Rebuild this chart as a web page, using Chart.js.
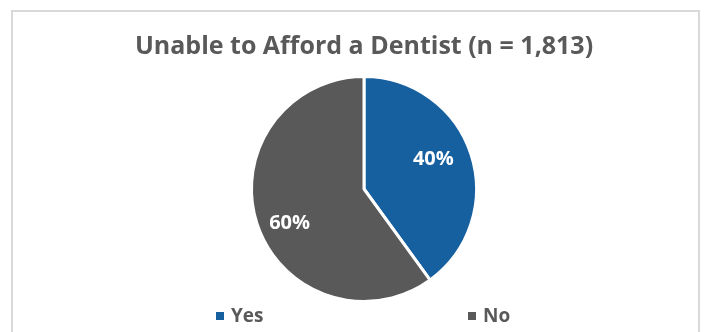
<!DOCTYPE html>
<html>
<head>
<meta charset="utf-8">
<script src="https://cdn.jsdelivr.net/npm/chart.js@4"></script>
<style>
  html, body { margin: 0; padding: 0; background: #fff; }
  #wrap { position: relative; width: 709px; height: 332px; overflow: hidden; }
  #frame {
    position: absolute; left: 11px; top: 10px; width: 689px; height: 340px;
    border: 2px solid #d9d9d9; box-sizing: border-box;
  }
  canvas { position: absolute; left: 0; top: 0; }
</style>
</head>
<body>
<div id="wrap">
  <div id="frame"></div>
  <canvas id="pieChart" width="709" height="332"></canvas>
</div>
<script>
// ================= DATOS =================
const categorias = ["Yes", "No"];
const porcentajes = [40, 60];
const colores = ["#1660a0", "#595959"];
const titulo = "Unable to Afford a Dentist (n = 1,813)";

const FUENTE = "'Open Sans', sans-serif";

// ================= ETIQUETAS DENTRO =================
const etiquetasPlugin = {
  id: "etiquetas",
  afterDatasetsDraw(chart) {
    const { ctx } = chart;
    const meta = chart.getDatasetMeta(0);
    // distancia (fraccion del radio) y giro (grados) de cada etiqueta
    const dist = [0.67, 0.73];
    const giro = [-5, -7];
    ctx.save();
    ctx.font = `bold 20px ${FUENTE}`;
    ctx.fillStyle = "#fff";
    ctx.textAlign = "center";
    ctx.textBaseline = "middle";
    meta.data.forEach((arc, i) => {
      const { x, y, startAngle, endAngle, outerRadius } = arc.getProps(["x", "y", "startAngle", "endAngle", "outerRadius"], true);
      const mid = (startAngle + endAngle) / 2 + giro[i] * Math.PI / 180;
      const r = outerRadius * dist[i];
      ctx.fillText(`${porcentajes[i]}%`, x + Math.cos(mid) * r, y + Math.sin(mid) * r);
    });
    ctx.restore();
  }
};

// ================= LEYENDA =================
const leyendaPlugin = {
  id: "leyenda",
  afterDraw(chart) {
    const { ctx } = chart;
    const posX = [220, 472];
    const y = 316;
    ctx.save();
    ctx.font = `bold 19px ${FUENTE}`;
    ctx.textBaseline = "middle";
    categorias.forEach((c, i) => {
      ctx.fillStyle = colores[i];
      ctx.fillRect(posX[i] - 4, y - 4, 8, 8);
      ctx.fillStyle = "#595959";
      ctx.fillText(c, posX[i] + 11, y + 1);
    });
    ctx.restore();
  }
};

// ================= CHART =================
new Chart(document.getElementById("pieChart"), {
  type: "pie",
  data: {
    labels: categorias,
    datasets: [{
      data: porcentajes,
      backgroundColor: colores,
      borderColor: "#fff",
      borderWidth: 3
    }]
  },
  plugins: [etiquetasPlugin, leyendaPlugin],
  options: {
    responsive: false,
    animation: false,
    layout: { padding: { left: 19, right: 0, bottom: 29 } },
    plugins: {
      legend: { display: false },
      tooltip: { enabled: false },
      title: {
        display: true,
        text: titulo,
        color: "#595959",
        font: { family: FUENTE, size: 25, weight: "bold" },
        padding: { top: 32, bottom: 13 }
      }
    }
  }
});
</script>
</body>
</html>
